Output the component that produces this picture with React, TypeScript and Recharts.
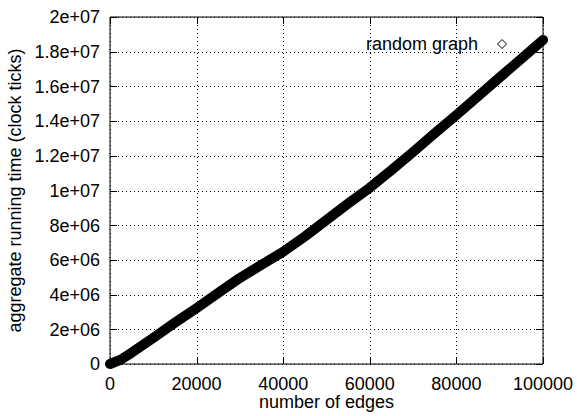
import { LineChart, Line, XAxis, YAxis, CartesianGrid, Legend } from 'recharts';

const edges = [0, 2500, 5000, 10000, 15000, 20000, 25000, 30000, 35000, 40000, 45000, 50000, 55000, 60000, 65000, 70000, 75000, 80000, 85000, 90000, 95000, 100000];
const clockTicks = [0, 250000, 650000, 1500000, 2380000, 3220000, 4100000, 4960000, 5720000, 6470000, 7350000, 8300000, 9250000, 10160000, 11180000, 12220000, 13300000, 14350000, 15430000, 16520000, 17590000, 18680000];

const xTicks = [0, 20000, 40000, 60000, 80000, 100000];
const yTicks = [0, 2e6, 4e6, 6e6, 8e6, 1e7, 1.2e7, 1.4e7, 1.6e7, 1.8e7, 2e7];

const data = edges.map((e, i) => ({ edges: e, time: clockTicks[i] }));

const FONT = '"Liberation Sans", Arial, sans-serif';
const TICK_LEN = 7;

// gnuplot-style exponent labels: 2e+06, 1.2e+07, ...
function fmtSci(v: number) {
  if (v === 0) return '0';
  const exp = Math.floor(Math.log10(v));
  const mant = +(v / Math.pow(10, exp)).toFixed(2);
  return `${mant}e+${String(exp).padStart(2, '0')}`;
}

const snap = (v: number) => Math.round(v) + 0.5;

// dotted grid line plus inward border ticks on both ends
function hGridLine(props: any) {
  const { x1, x2, y1, index } = props;
  const y = snap(y1);
  return (
    <g key={`h-${index}`}>
      <line x1={x1} x2={x2} y1={y} y2={y} stroke="#000" strokeDasharray="1 3" />
      <line x1={x1} x2={x1 + TICK_LEN} y1={y} y2={y} stroke="#000" />
      <line x1={x2 - TICK_LEN} x2={x2} y1={y} y2={y} stroke="#000" />
    </g>
  );
}

function vGridLine(props: any) {
  const { x1, y1, y2, index } = props;
  const x = snap(x1);
  const top = Math.min(y1, y2);
  const bottom = Math.max(y1, y2);
  return (
    <g key={`v-${index}`}>
      <line x1={x} x2={x} y1={top} y2={bottom} stroke="#000" strokeDasharray="1 3" />
      <line x1={x} x2={x} y1={top} y2={top + TICK_LEN} stroke="#000" />
      <line x1={x} x2={x} y1={bottom - TICK_LEN} y2={bottom} stroke="#000" />
    </g>
  );
}

function BottomTick(props: any) {
  const { x, y, payload } = props;
  return (
    <text x={x} y={y + 13} dy="0.71em" textAnchor="middle" fontFamily={FONT} fontSize={18} fill="#000">
      {payload.value}
    </text>
  );
}

function LeftTick(props: any) {
  const { x, y, payload } = props;
  return (
    <text x={x - 10} y={y} dy="0.355em" textAnchor="end" fontFamily={FONT} fontSize={18} fill="#000">
      {fmtSci(payload.value)}
    </text>
  );
}

function LegendContent() {
  return (
    <div style={{ display: 'flex', alignItems: 'center', fontFamily: FONT, fontSize: 18, lineHeight: '20px', color: '#000' }}>
      <span>random graph</span>
      <svg width={12} height={12} style={{ marginLeft: 18 }}>
        <polygon points="6,1.5 10.5,6 6,10.5 1.5,6" fill="#fff" stroke="#000" strokeWidth={1} />
      </svg>
    </div>
  );
}

export default function App() {
  return (
    <div style={{ position: 'absolute', left: 0, top: 0, background: '#fff' }}>
      <LineChart width={577} height={416} data={data} margin={{ top: 16, right: 33, bottom: 0, left: 0 }}>
        <CartesianGrid horizontal={hGridLine} vertical={vGridLine} />
        <XAxis
          dataKey="edges"
          type="number"
          domain={[0, 100000]}
          ticks={xTicks}
          interval={0}
          height={52}
          tickSize={0}
          tickMargin={0}
          tickLine={false}
          stroke="#000"
          tick={<BottomTick />}
          label={{ value: 'number of edges', position: 'insideBottom', offset: 8, style: { fontFamily: FONT, fontSize: 18, fill: '#000' } }}
        />
        <XAxis
          xAxisId="top"
          orientation="top"
          type="number"
          domain={[0, 100000]}
          height={1}
          tick={false}
          tickLine={false}
          stroke="#000"
        />
        <YAxis
          type="number"
          domain={[0, 2e7]}
          ticks={yTicks}
          interval={0}
          width={110}
          tickSize={0}
          tickMargin={0}
          tickLine={false}
          stroke="#000"
          tick={<LeftTick />}
          label={{ value: 'aggregate running time (clock ticks)', angle: -90, position: 'insideLeft', offset: 15, style: { fontFamily: FONT, fontSize: 18, fill: '#000', textAnchor: 'middle' } }}
        />
        <YAxis
          yAxisId="right"
          orientation="right"
          type="number"
          domain={[0, 2e7]}
          width={1}
          tick={false}
          tickLine={false}
          stroke="#000"
        />
        <Legend
          layout="horizontal"
          verticalAlign="middle"
          align="center"
          wrapperStyle={{ top: 34, right: 69, width: 'auto' }}
          content={() => <LegendContent />}
        />
        <Line
          type="linear"
          dataKey="time"
          name="random graph"
          stroke="#000"
          strokeWidth={10}
          strokeLinejoin="round"
          strokeLinecap="round"
          dot={false}
          isAnimationActive={false}
        />
      </LineChart>
    </div>
  );
}
